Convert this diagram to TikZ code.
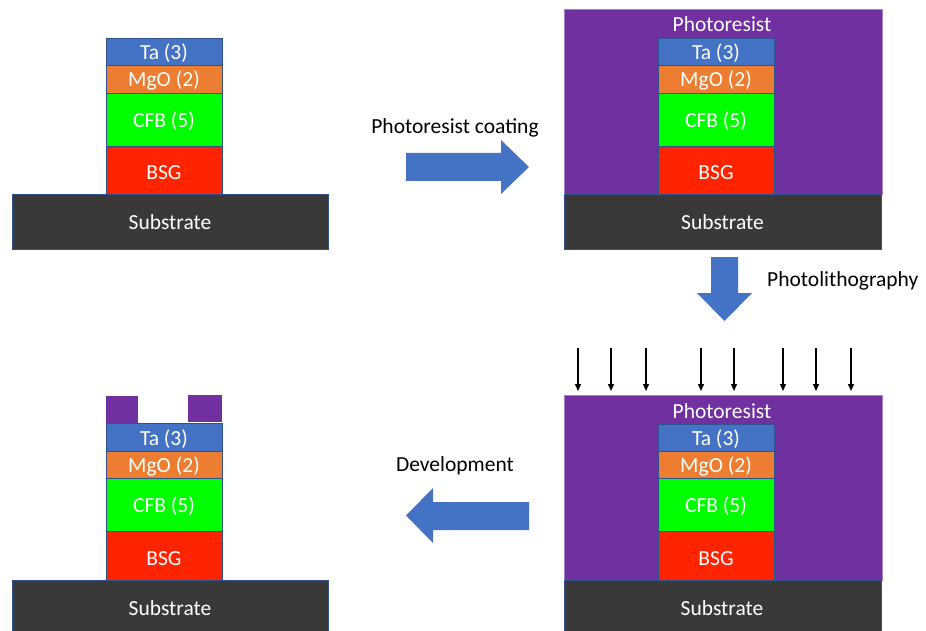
\documentclass[tikz,border=0pt]{standalone}
\usepackage{fontspec}
\setmainfont{Carlito}
\usetikzlibrary{arrows.meta}
\definecolor{taC}{HTML}{4472C4}
\definecolor{mgoC}{HTML}{ED7D31}
\definecolor{cfbC}{HTML}{00FF00}
\definecolor{bsgC}{HTML}{FF2400}
\definecolor{subC}{HTML}{3B3838}
\definecolor{prC}{HTML}{7030A0}
\definecolor{edgeC}{HTML}{2F528F}
\definecolor{arrC}{HTML}{4472C4}
\tikzset{
  layer/.style={draw=edgeC, line width=0.6pt, inner sep=0pt, outer sep=0pt,
    anchor=north west, text=white, font=\fontsize{21.5}{24}\selectfont,
    minimum width=116pt, text height=19pt, text depth=3pt},
  lowtext/.style={text height=23pt, text depth=3pt},
  resist/.style={fill=prC, draw=prC!60!white, line width=0.6pt, inner sep=0pt,
    outer sep=0pt, anchor=north west, minimum width=318pt},
  label/.style={font=\fontsize{21.5}{24}\selectfont, text=black, inner sep=0pt, yshift=-2pt},
  inlabel/.style={font=\fontsize{21.5}{24}\selectfont, text=white, inner sep=0pt,
    text height=19pt, text depth=3pt},
  blockarrow/.style={fill=arrC, draw=none},
  ray/.style={line width=1.3pt, -{Triangle[length=7pt,width=6pt]}},
}
\begin{document}
\begin{tikzpicture}[x=1pt, y=-1pt]
\clip (0,0) rectangle (926,631);
\fill[white] (0,0) rectangle (926,631);

% ---- initial stack (top left)
\node[layer, fill=subC, minimum width=316pt, minimum height=55pt] (subA) at (12,194) {Substrate};
\node[layer, lowtext, fill=bsgC, minimum height=48pt] (bsgA) at (106,146) {BSG};
\node[layer, fill=cfbC, minimum height=53pt] (cfbA) at (106,93) {CFB (5)};
\node[layer, fill=mgoC, minimum height=28pt] (mgoA) at (106,65) {MgO (2)};
\node[layer, fill=taC, minimum height=27pt] (taA) at (106,38) {Ta (3)};

% ---- after coating (top right)
\node[resist, minimum height=185pt] (prB) at (564,9) {};
\node[inlabel] (prBl) at (722,24) {Photoresist};
\node[layer, fill=subC, minimum width=317pt, minimum height=55pt] (subB) at (564,194) {Substrate};
\node[layer, lowtext, fill=bsgC, minimum height=48pt] (bsgB) at (658,146) {BSG};
\node[layer, fill=cfbC, minimum height=53pt] (cfbB) at (658,93) {CFB (5)};
\node[layer, fill=mgoC, minimum height=28pt] (mgoB) at (658,65) {MgO (2)};
\node[layer, fill=taC, minimum height=27pt] (taB) at (658,38) {Ta (3)};

% ---- exposure (bottom right)
\node[resist, minimum height=185pt] (prC) at (564,395) {};
\node[inlabel] (prCl) at (722,410) {Photoresist};
\node[layer, fill=subC, minimum width=317pt, minimum height=55pt] (subC) at (564,580) {};
\node[inlabel] (subCl) at (722,607.5) {Substrate};
\node[layer, lowtext, fill=bsgC, minimum height=49pt] (bsgC) at (658,531) {BSG};
\node[layer, fill=cfbC, minimum height=53pt] (cfbC) at (658,478) {CFB (5)};
\node[layer, fill=mgoC, minimum height=27pt] (mgoC) at (658,451) {MgO (2)};
\node[layer, fill=taC, minimum height=27pt] (taC) at (658,424) {Ta (3)};

% UV rays onto the resist
\foreach \x in {578,611,646,701,734,783,816,851}{
  \coordinate (rs\x) at (\x,348);
  \coordinate (re\x) at (\x,391);
  \draw[ray] (rs\x) -- (re\x);
}

% ---- after development (bottom left)
\node[layer, fill=subC, minimum width=316pt, minimum height=55pt] (subD) at (12,580) {};
\node[inlabel] (subDl) at (170,607.5) {Substrate};
\node[layer, lowtext, fill=bsgC, minimum height=49pt] (bsgD) at (106,531) {BSG};
\node[layer, fill=cfbC, minimum height=53pt] (cfbD) at (106,478) {CFB (5)};
\node[layer, fill=mgoC, minimum height=27pt] (mgoD) at (106,451) {MgO (2)};
\node[layer, fill=taC, minimum height=28pt] (taD) at (106,423) {Ta (3)};
\fill[prC] (106,396) rectangle (138,423);
\fill[prC] (188,395) rectangle (222,422);

% ---- process arrows
\fill[blockarrow] (406,153) -- (501,153) -- (501,140) -- (529,167) -- (501,194)
  -- (501,181) -- (406,181) -- cycle;
\node[label] (stepA) at (455,126) {Photoresist coating};

\fill[blockarrow] (711,257) -- (738,257) -- (738,293) -- (752,293) -- (724.5,321)
  -- (697,293) -- (711,293) -- cycle;
\node[label, anchor=west] (stepB) at (767,279) {Photolithography};

\fill[blockarrow] (529,502) -- (433,502) -- (433,488) -- (406,515.5) -- (433,543)
  -- (433,530) -- (529,530) -- cycle;
\node[label] (stepC) at (455,464) {Development};
\end{tikzpicture}
\end{document}
